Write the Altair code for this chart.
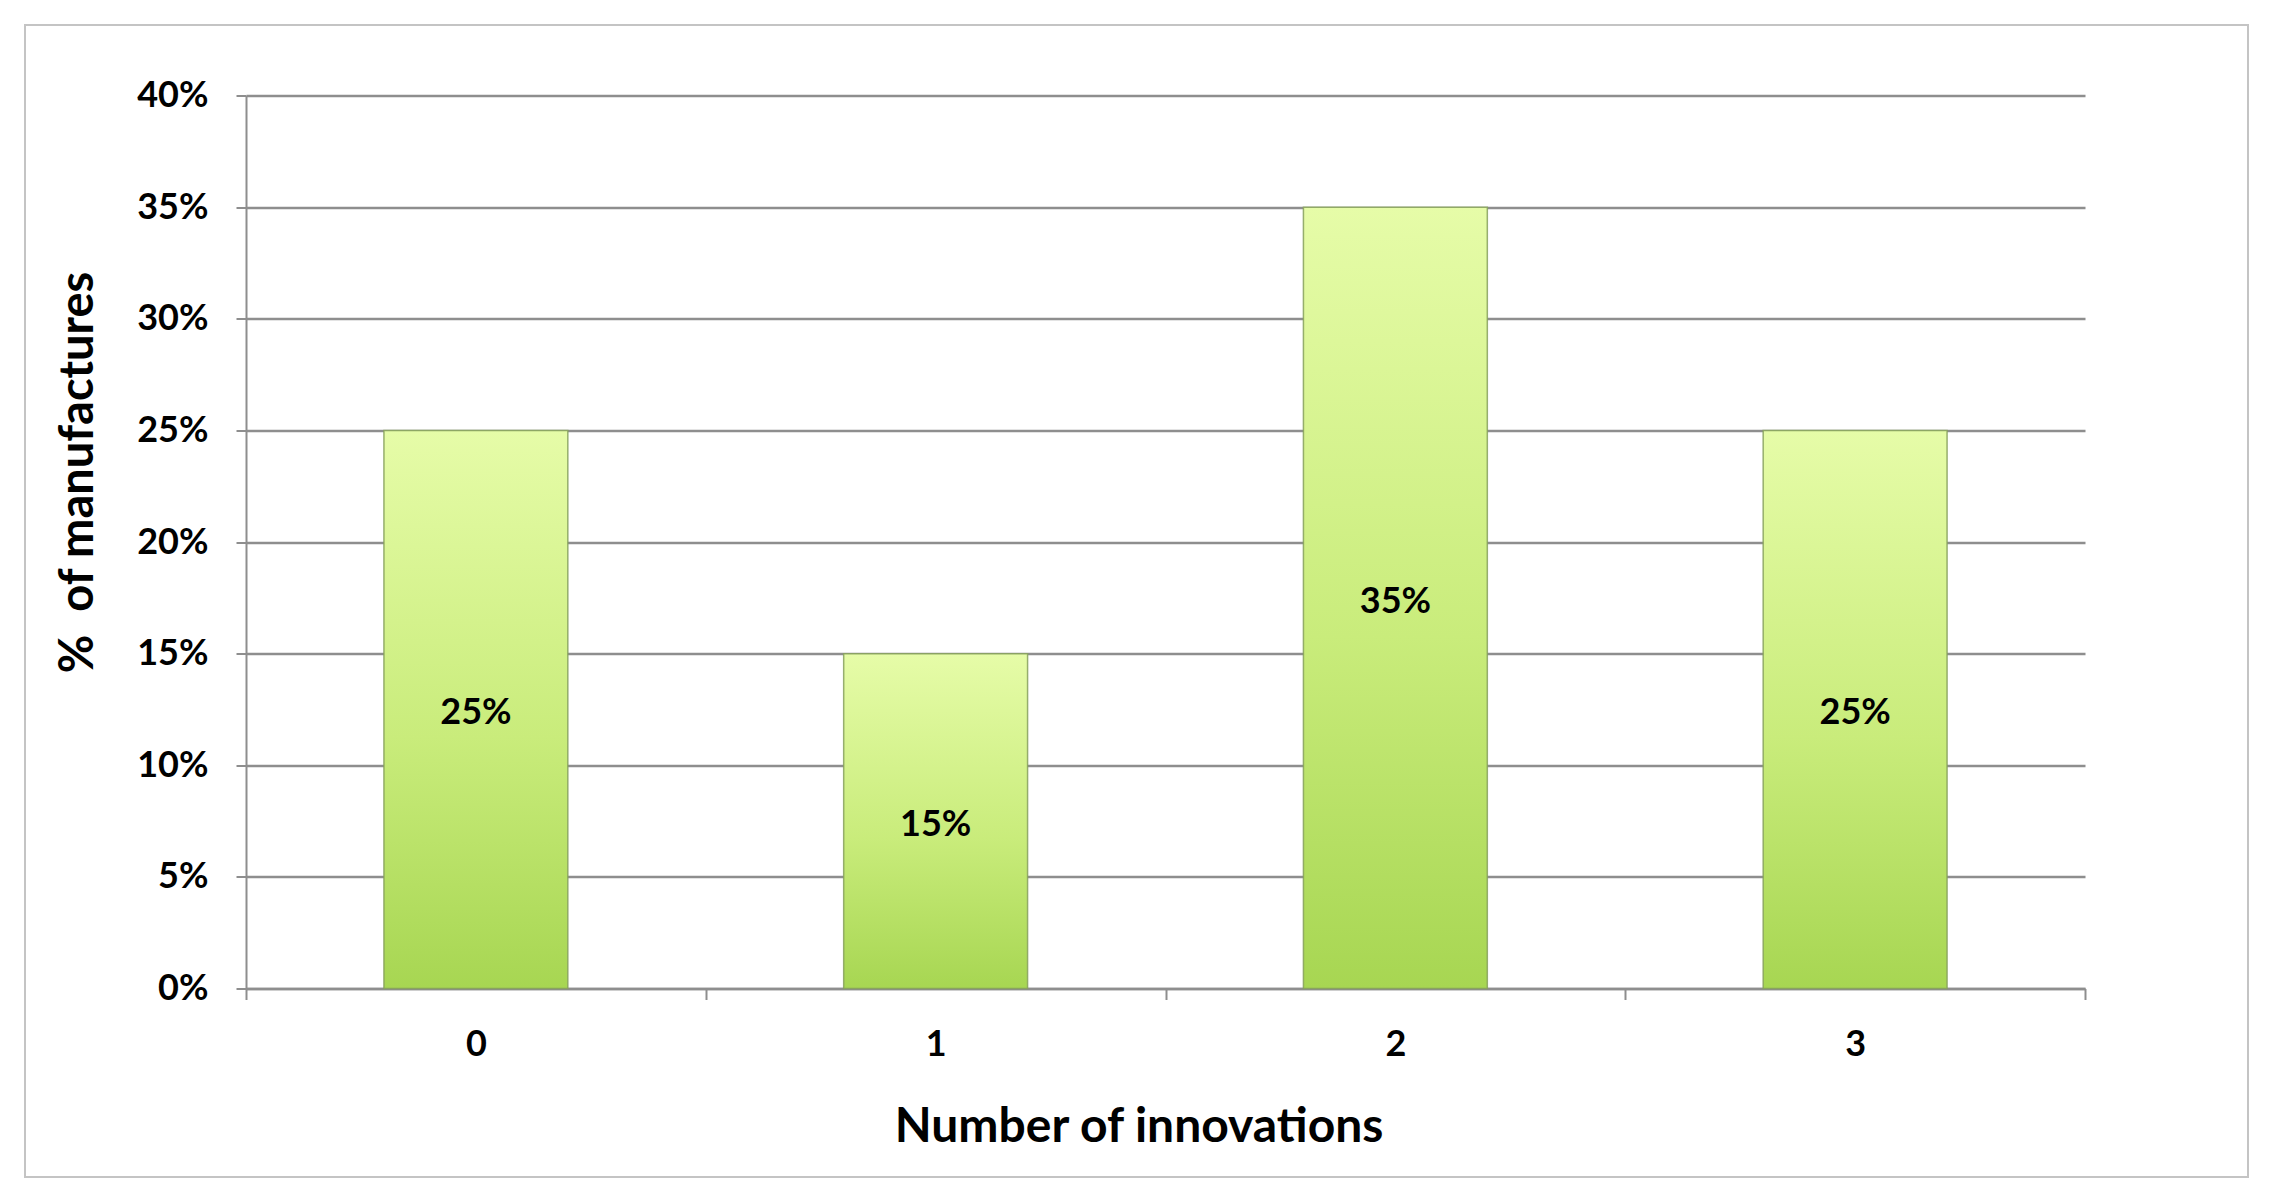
import altair as alt
import pandas as pd

categories = ["0", "1", "2", "3"]
values = [0.25, 0.15, 0.35, 0.25]
labels = ["25%", "15%", "35%", "25%"]

df = pd.DataFrame({"cat": categories, "val": values, "lab": labels})

FONT = "Lato"
GRID = "#8e8e8e"

W, H = 1839, 893

bar_grad = alt.Gradient(
    gradient="linear",
    stops=[
        alt.GradientStop(color="#e6fca8", offset=0),
        alt.GradientStop(color="#c9ec7b", offset=0.55),
        alt.GradientStop(color="#a7d652", offset=1),
    ],
    x1=0, x2=0, y1=0, y2=1,
)

x_enc = alt.X(
    "cat:N",
    sort=categories,
    scale=alt.Scale(paddingInner=0, paddingOuter=0),
    axis=alt.Axis(
        title="Number of innovations",
        labelAngle=0,
        labelFont=FONT, labelFontSize=36, labelFontWeight="bold", labelColor="black",
        labelPadding=28,
        tickBand="extent", tickSize=11, tickColor=GRID, tickWidth=2,
        domainColor=GRID, domainWidth=2.5,
        grid=False,
        titleFont=FONT, titleFontSize=48, titleFontWeight="bold", titleColor="black",
        titleX=892.6, titleY=139, titleAlign="center", titleBaseline="middle",
    ),
)

y_axis = alt.Axis(
    title="%\u00a0\u00a0of manufactures",
    values=[0, 0.05, 0.1, 0.15, 0.2, 0.25, 0.3, 0.35, 0.4],
    format=".0%",
    labelFont=FONT, labelFontSize=36, labelFontWeight="bold", labelColor="black",
    labelPadding=28,
    tickSize=10, tickColor=GRID, tickWidth=2,
    domainColor=GRID, domainWidth=2,
    grid=True, gridColor=GRID, gridWidth=2.5,
    titleFont=FONT, titleFontSize=47, titleFontWeight="bold", titleColor="black",
    titleAngle=270, titleX=-168, titleY=376.5, titleAlign="center", titleBaseline="middle",
)

base = alt.Chart(df)

bars = base.mark_bar(
    color=bar_grad, stroke="#86a05c", strokeWidth=1.5, strokeOpacity=0.85,
    width=alt.RelativeBandSize(0.4),
).encode(
    x=x_enc,
    y=alt.Y("val:Q", scale=alt.Scale(domain=[0, 0.4], nice=False), axis=y_axis),
)

texts = base.transform_calculate(mid="datum.val / 2").mark_text(
    font=FONT, fontSize=36, fontWeight="bold", color="black", baseline="middle", dy=4
).encode(
    x=alt.X("cat:N", sort=categories),
    y=alt.Y("mid:Q"),
    text="lab:N",
)

frame = alt.Chart(alt.Data(values=[{"a": 1}])).mark_rect(
    fill=None, stroke="#c4c4c4", strokeWidth=2
).encode(
    x=alt.value(-221), x2=alt.value(2002),
    y=alt.value(-70.5), y2=alt.value(1081.5),
)

chart = alt.layer(frame, bars, texts).properties(
    width=W, height=H,
    autosize=alt.AutoSizeParams(type="none"),
    padding={"left": 238, "top": 87.5, "right": 175, "bottom": 195},
    background="white",
).configure_view(stroke=None)

chart.save("out.html", embed_options={"renderer": "svg", "actions": False})
